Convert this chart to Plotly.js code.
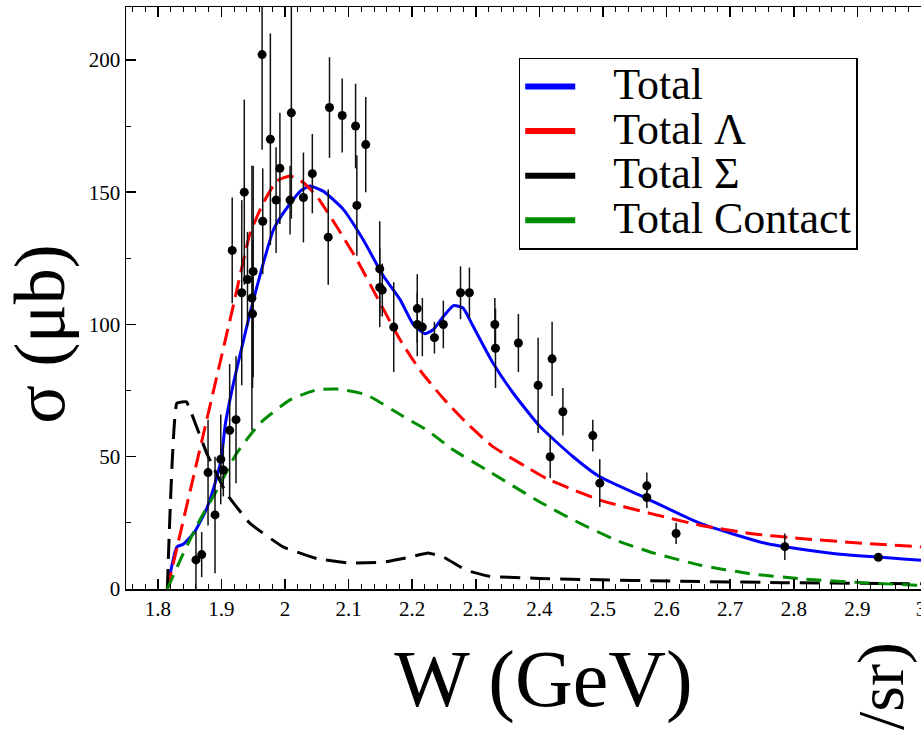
<!DOCTYPE html>
<html>
<head>
<meta charset="utf-8">
<script src="https://cdn.plot.ly/plotly-3.0.1.min.js"></script>
<style>html,body{margin:0;padding:0;background:#fff;}#chart{width:921px;height:736px;}</style>
</head>
<body>
<div id="chart"></div>
<script>
// ---- experimental data ----
const dataW = [1.860,1.869,1.879,1.890,1.899,1.903,1.913,1.917,1.923,1.932,1.936,1.941,1.948,1.949,1.950,1.964,1.965,1.977,1.986,1.992,2.008,2.010,2.029,2.043,2.068,2.070,2.090,2.111,2.113,2.127,2.149,2.149,2.153,2.171,2.208,2.208,2.216,2.235,2.249,2.276,2.290,2.330,2.331,2.367,2.398,2.417,2.420,2.437,2.484,2.495,2.569,2.569,2.615,2.786,2.933];
const dataSigma = [11,13,44,28,49,45,60,128,64,112,150,117,110,104,120,202,139,170,147,159,147,180,148,157,133,182,179,175,145,168,121,114,113,99,106,100,99,95,100,112,112,100,91,93,77,50,87,67,58,40,39,34.6,21,16,12];
const dataErr = [11,8.5,20,22,17,10,25,20,24,35,35,18,50,28,40,36,20,40,20,21,13,40,17,15,18,19,14,16,19,18,18,15,10,17,13,12,11,6,9,10,9.5,10,15,11,18,8,14,9,6,9,5,4,4,5,1];

// ---- model curves ----
const totalW = [1.815,1.83,1.84,1.858,1.877,1.89,1.9,1.906,1.919,1.945,1.966,1.982,1.997,2.024,2.039,2.06,2.092,2.123,2.155,2.181,2.202,2.22,2.233,2.249,2.265,2.28,2.296,2.327,2.359,2.401,2.453,2.495,2.569,2.653,2.757,2.862,3.0];
const totalS = [0,15.9,16.9,21.6,30.5,39.9,49.4,62,77.8,104.3,123.3,135.9,142,150.4,152.3,150.4,143.4,132,118.2,109.4,99.9,96.5,98,103,107.1,106.2,99.2,85.4,74,61.4,50,42.4,34.2,24.8,17.2,13.4,10.9];

const lambdaW = [1.815,1.83,1.851,1.877,1.898,1.919,1.945,1.966,1.987,2.008,2.029,2.05,2.081,2.113,2.144,2.181,2.212,2.249,2.286,2.327,2.37,2.411,2.495,2.574,2.653,2.731,2.81,2.915,3.0];
const lambdaS = [0,15.5,37.2,64,85.7,107.4,134.3,146,154.2,156.1,153.6,148.5,137.1,124.5,110.6,94.2,82.8,72,62.7,53.8,47.5,41.8,33.6,28.6,24.1,21,19.1,17.2,15.9];

const sigmaW = [1.815,1.830,1.845,1.853,1.877,1.908,1.945,1.997,2.05,2.102,2.155,2.197,2.225,2.249,2.285,2.322,2.4,2.469,2.626,2.783,3.0];
const sigmaS = [0,70.2,70.8,66.4,51.3,36.1,24.8,15.9,11.5,9.8,10.2,12.1,13.6,12.1,7.1,4.8,4.0,3.6,2.9,2.4,2.0];

const contactW = [1.815,1.84,1.866,1.893,1.924,1.961,2.008,2.05,2.081,2.128,2.186,2.223,2.265,2.317,2.4,2.45,2.521,2.574,2.653,2.731,2.81,2.915,3.0];
const contactS = [0,13.4,26,37.4,51.3,62.7,71.5,75.3,75.6,73.4,65.2,60.1,52.5,45,33,26.5,18.4,14,9,5.8,3.9,2.3,1.4];

// ---- legend labels ----
const legendNames = ['Total','Total \u039B','Total \u03A3','Total Contact'];
const curveColors = ['#0000ff','#ff0000','#000000','#008c00'];

const serif = 'Liberation Serif';
function big(t){ return '<span style="font-size:44px">\u00A0\u00A0\u00A0' + t + '</span>'; }

const traces = [
  {x: totalW, y: totalS, mode:'lines', line:{color:curveColors[0], width:3, shape:'spline', smoothing:0.5}, showlegend:false, hoverinfo:'skip'},
  {x: lambdaW, y: lambdaS, mode:'lines', line:{color:curveColors[1], width:3, dash:'17px,8px', shape:'spline', smoothing:0.5}, showlegend:false, hoverinfo:'skip'},
  {x: sigmaW, y: sigmaS, mode:'lines', line:{color:curveColors[2], width:3, dash:'20px,10px', shape:'spline', smoothing:0.3}, showlegend:false, hoverinfo:'skip'},
  {x: contactW, y: contactS, mode:'lines', line:{color:curveColors[3], width:3, dash:'15px,9px', shape:'spline', smoothing:0.5}, showlegend:false, hoverinfo:'skip'},
  {x: dataW, y: dataSigma, mode:'markers', marker:{color:'#000', size:9},
   error_y:{type:'data', array:dataErr, visible:true, color:'#111', thickness:1.5, width:0}, showlegend:false}
];
// legend entries (solid samples as in the reference)
for (let i = 0; i < legendNames.length; i++) {
  traces.push({x:[null], y:[null], mode:'lines', name: big(legendNames[i]),
    line:{color:curveColors[i], width:6}, showlegend:true});
}

const layout = {
  width: 921, height: 736,
  margin: {l:126, r:0, t:7, b:147},
  paper_bgcolor:'#fff', plot_bgcolor:'#fff',
  font: {family: serif, color:'#000'},
  showlegend: true,
  legend: {x:0.494, y:0.913, xanchor:'left', yanchor:'top', bgcolor:'#fff',
    bordercolor:'#000', borderwidth:1.5, font:{family:serif, size:32, color:'#000'},
    itemwidth:50, traceorder:'normal'},
  xaxis: {range:[1.75, 3.0001], dtick:0.1, tick0:1.8, ticks:'inside', ticklen:10, tickwidth:1.5,
    tickcolor:'#000', showline:true, linecolor:'#000', linewidth:1.5, mirror:'ticks',
    showgrid:false, zeroline:false, ticklabeloverflow:'allow',
    tickfont:{family:serif, size:21, color:'#000'},
    minor:{dtick:0.02, ticks:'inside', ticklen:5, tickwidth:1, tickcolor:'#000', showgrid:false},
    title:{text:'&#160;&#160;W (GeV)', font:{family:serif, size:80, color:'#000'}, standoff:30}},
  yaxis: {range:[0, 220], dtick:50, ticks:'inside', ticklen:10, tickwidth:1.5,
    tickcolor:'#000', showline:true, linecolor:'#000', linewidth:1.5, mirror:false,
    showgrid:false, zeroline:false, tickfont:{family:serif, size:21, color:'#000'},
    minor:{dtick:25, ticks:'inside', ticklen:5, tickwidth:1, tickcolor:'#000', showgrid:false},
    title:{text:'\u03C3 (\u03BCb)&#160;&#160;&#160;&#160;', font:{family:serif, size:72, color:'#000'}, standoff:6}},
  annotations: [
    {xref:'paper', yref:'paper', x:0.998, y:-0.245, text:'/sr)', textangle:-90,
     showarrow:false, font:{family:serif, size:66, color:'#000'}}
  ]
};

Plotly.newPlot('chart', traces, layout, {displayModeBar:false, staticPlot:true});
</script>
</body>
</html>
